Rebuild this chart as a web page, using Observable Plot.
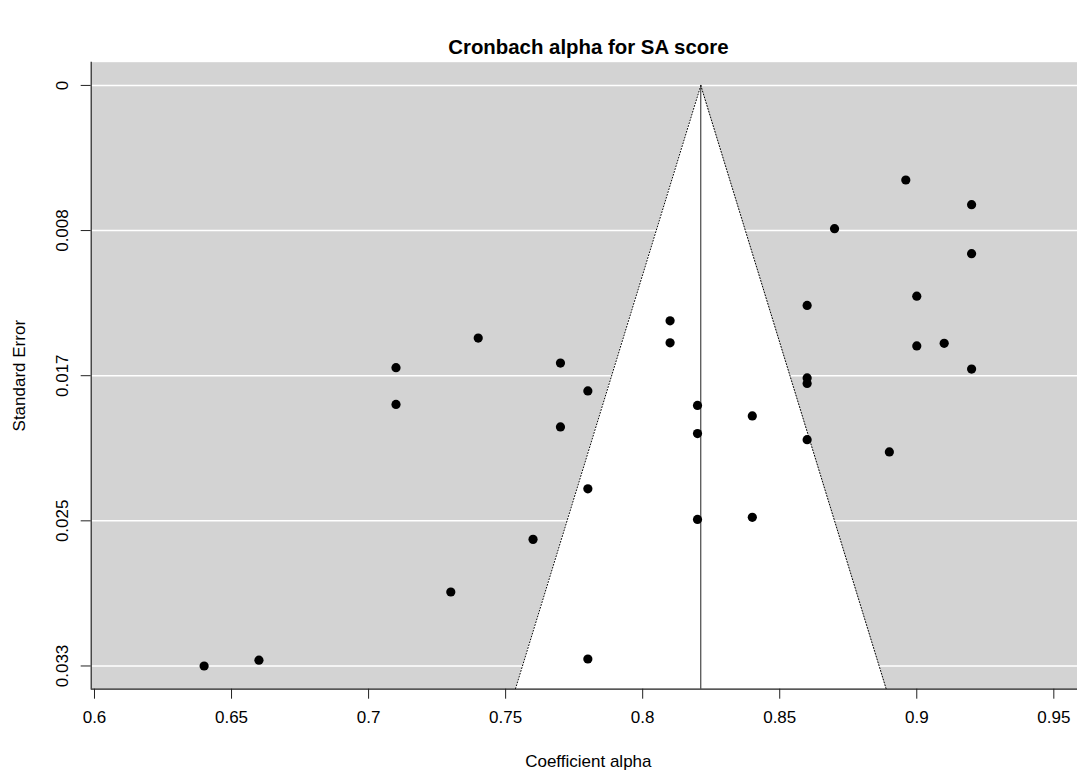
<!DOCTYPE html>
<html>
<head>
<meta charset="utf-8">
<script src="https://cdn.jsdelivr.net/npm/d3@7"></script>
<script src="https://cdn.jsdelivr.net/npm/@observablehq/plot@0.6"></script>
<style>
  html, body { margin: 0; padding: 0; background: #ffffff; }
  #chart { width: 1077px; height: 770px; }
</style>
</head>
<body>
<div id="chart"></div>
<script>
// ---- data ----
const alphaValues = [0.896, 0.92, 0.87, 0.92, 0.90, 0.86, 0.81, 0.81, 0.90, 0.91, 0.92, 0.86, 0.86,
  0.82, 0.84, 0.82, 0.86, 0.89, 0.74, 0.71, 0.77, 0.78, 0.71, 0.77, 0.78, 0.76, 0.73, 0.66, 0.64,
  0.78, 0.82, 0.84];
const seValues = [0.00541, 0.00682, 0.00819, 0.00962, 0.01205, 0.01258, 0.01346, 0.01472, 0.01490,
  0.01475, 0.01622, 0.01673, 0.01704, 0.01830, 0.01890, 0.01991, 0.02026, 0.02096, 0.01445, 0.01614,
  0.01588, 0.01747, 0.01824, 0.01953, 0.02307, 0.02596, 0.02897, 0.03287, 0.03320, 0.03280, 0.02482,
  0.02470];
const pooledAlpha = 0.8212;
const zCrit = 1.96;
const seMax = 0.0332;

const xTicks = [0.6, 0.65, 0.7, 0.75, 0.8, 0.85, 0.9, 0.95];
const xTickLabels = ["0.6", "0.65", "0.7", "0.75", "0.8", "0.85", "0.9", "0.95"];
const yTicks = [0, 0.0083, 0.0166, 0.0249, 0.0332];
const yTickLabels = ["0", "0.008", "0.017", "0.025", "0.033"];

const titleText = "Cronbach alpha for SA score";
const xLabel = "Coefficient alpha";
const yLabel = "Standard Error";

// ---- derived tables ----
const studies = alphaValues.map((a, i) => ({alpha: a, se: seValues[i]}));
const yDomain = [-0.04 * seMax, 1.04 * seMax];
const xDomain = [0.5988, 0.95864];
const funnel = [
  {se: 0, lo: pooledAlpha, hi: pooledAlpha},
  {se: yDomain[1], lo: pooledAlpha - zCrit * yDomain[1], hi: pooledAlpha + zCrit * yDomain[1]}
];

const chart = Plot.plot({
  width: 1077,
  height: 770,
  marginLeft: 90.7,
  marginTop: 61.7,
  marginBottom: 81.3,
  marginRight: 0,
  style: {
    fontFamily: "'Liberation Sans', Arial, Helvetica, sans-serif",
    fontSize: "17px",
    background: "#ffffff",
    color: "#000000"
  },
  x: {domain: xDomain, label: null},
  y: {domain: yDomain, reverse: true, label: null},
  marks: [
    Plot.frame({fill: "#d3d3d3", stroke: null}),
    Plot.ruleY(yTicks, {stroke: "#ffffff", strokeWidth: 1.5}),
    Plot.areaX(funnel, {y: "se", x1: "lo", x2: "hi", fill: "#ffffff"}),
    Plot.line(funnel, {x: "lo", y: "se", stroke: "#000000", strokeWidth: 1, strokeDasharray: "1,2"}),
    Plot.line(funnel, {x: "hi", y: "se", stroke: "#000000", strokeWidth: 1, strokeDasharray: "1,2"}),
    Plot.ruleX([pooledAlpha], {y1: 0, y2: yDomain[1], stroke: "#222222", strokeWidth: 1}),
    Plot.dot(studies, {x: "alpha", y: "se", r: 4.6, fill: "#000000", stroke: null}),
    Plot.ruleX([xDomain[0]], {stroke: "#222222", strokeWidth: 1.2}),
    Plot.ruleY([yDomain[1]], {stroke: "#222222", strokeWidth: 1.2}),
    Plot.axisX({
      ticks: xTicks,
      tickFormat: d => xTickLabels[xTicks.indexOf(d)],
      tickSize: 10,
      tickPadding: 12,
      label: null,
      stroke: "#222222"
    }),
    Plot.axisY({
      ticks: yTicks,
      tickFormat: () => "",
      tickSize: 10,
      label: null,
      stroke: "#222222"
    }),
    Plot.text(yTicks, {
      y: d => d,
      text: (d, i) => yTickLabels[i],
      frameAnchor: "left",
      textAnchor: "middle",
      lineAnchor: "middle",
      rotate: -90,
      dx: -29,
      fill: "#000000"
    }),
    Plot.text([yLabel], {
      text: d => d,
      frameAnchor: "left",
      textAnchor: "middle",
      lineAnchor: "middle",
      rotate: -90,
      dx: -72,
      fill: "#000000"
    }),
    Plot.text([xLabel], {
      text: d => d,
      frameAnchor: "bottom",
      textAnchor: "middle",
      lineAnchor: "middle",
      dy: 72,
      dx: 4,
      fill: "#000000"
    }),
    Plot.text([titleText], {
      text: d => d,
      frameAnchor: "top",
      textAnchor: "middle",
      lineAnchor: "middle",
      dy: -15,
      dx: 4,
      fontWeight: "bold",
      fontSize: 20.4,
      fill: "#000000"
    })
  ]
});
document.getElementById("chart").append(chart);
</script>
</body>
</html>
